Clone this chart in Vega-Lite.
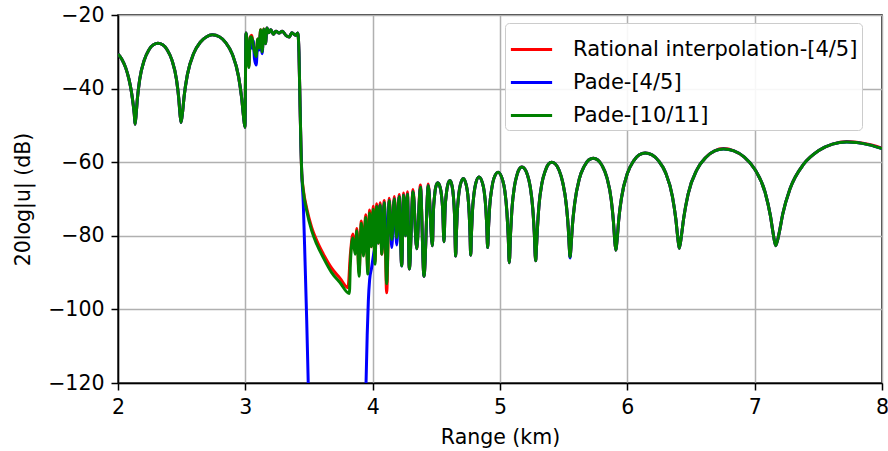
{
"$schema":"https://vega.github.io/schema/vega-lite/v6.json",
"width":764,"height":368,
"autosize":{"type":"none"},
"padding":{"left":118,"top":15,"right":6,"bottom":68},
"background":"white",
"config":{"font":"DejaVu Sans","view":{"stroke":"black","strokeWidth":1.5},
"axis":{"grid":true,"gridColor":"#b0b0b0","gridWidth":1.5,"domainColor":"black","domainWidth":1.5,"tickColor":"black","tickWidth":1.5,"tickSize":7,"labelPadding":7,"labelFontSize":20.5,"labelColor":"black","titleFontSize":20.5,"titleFontWeight":"normal","titleColor":"black","labelFlush":false}},
"data":{"values":[
{"x":2.0,"a":-30.6,"b":-30.6,"c":-30.6},
{"x":2.03,"a":-32.0,"b":-32.0,"c":-32.0},
{"x":2.06,"a":-34.3,"b":-34.3,"c":-34.3},
{"x":2.085,"a":-37.3,"b":-37.3,"c":-37.3},
{"x":2.105,"a":-40.8,"b":-40.8,"c":-40.8},
{"x":2.12,"a":-44.5,"b":-44.5,"c":-44.5},
{"x":2.128,"a":-47.0,"b":-47.0,"c":-47.0},
{"x":2.134,"a":-49.7,"b":-49.7,"c":-49.7},
{"x":2.143,"a":-46.7,"b":-46.7,"c":-46.7},
{"x":2.152,"a":-42.8,"b":-42.8,"c":-42.8},
{"x":2.170,"a":-37.6,"b":-37.6,"c":-37.6},
{"x":2.206,"a":-32.3,"b":-32.3,"c":-32.3},
{"x":2.242,"a":-29.5,"b":-29.5,"c":-29.5},
{"x":2.278,"a":-28.1,"b":-28.1,"c":-28.1},
{"x":2.314,"a":-27.7,"b":-27.7,"c":-27.7},
{"x":2.351,"a":-28.1,"b":-28.1,"c":-28.1},
{"x":2.387,"a":-29.5,"b":-29.5,"c":-29.5},
{"x":2.423,"a":-32.2,"b":-32.2,"c":-32.2},
{"x":2.459,"a":-37.5,"b":-37.5,"c":-37.5},
{"x":2.477,"a":-42.6,"b":-42.6,"c":-42.6},
{"x":2.486,"a":-46.5,"b":-46.5,"c":-46.5},
{"x":2.495,"a":-49.2,"b":-49.2,"c":-49.2},
{"x":2.508,"a":-46.1,"b":-46.1,"c":-46.1},
{"x":2.520,"a":-41.9,"b":-41.9,"c":-41.9},
{"x":2.545,"a":-36.2,"b":-36.2,"c":-36.2},
{"x":2.595,"a":-30.4,"b":-30.4,"c":-30.4},
{"x":2.646,"a":-27.4,"b":-27.4,"c":-27.4},
{"x":2.696,"a":-25.9,"b":-25.9,"c":-25.9},
{"x":2.740,"a":-25.4,"b":-25.4,"c":-25.4},
{"x":2.796,"a":-25.9,"b":-25.9,"c":-25.9},
{"x":2.846,"a":-27.5,"b":-27.5,"c":-27.5},
{"x":2.897,"a":-30.6,"b":-30.6,"c":-30.6},
{"x":2.947,"a":-36.8,"b":-36.8,"c":-36.8},
{"x":2.972,"a":-42.8,"b":-42.8,"c":-42.8},
{"x":2.985,"a":-47.3,"b":-47.3,"c":-47.3},
{"x":2.997,"a":-50.5,"b":-50.5,"c":-50.5},
{"x":3.005,"a":-24.9,"b":-24.9,"c":-24.9},
{"x":3.018,"a":-30.0,"b":-29.0,"c":-30.0},
{"x":3.028,"a":-34.0,"b":-31.0,"c":-34.3},
{"x":3.038,"a":-26.0,"b":-27.0,"c":-26.0},
{"x":3.050,"a":-25.5,"b":-29.0,"c":-26.0},
{"x":3.062,"a":-28.0,"b":-27.0,"c":-28.2},
{"x":3.072,"a":-29.5,"b":-32.0,"c":-30.0},
{"x":3.085,"a":-30.5,"b":-33.6,"c":-31.3},
{"x":3.097,"a":-26.5,"b":-28.0,"c":-26.5},
{"x":3.108,"a":-29.0,"b":-29.5,"c":-29.0},
{"x":3.120,"a":-24.0,"b":-25.0,"c":-24.0},
{"x":3.132,"a":-30.0,"b":-30.5,"c":-30.0},
{"x":3.145,"a":-23.8,"b":-24.0,"c":-23.8},
{"x":3.158,"a":-27.8,"b":-27.8,"c":-27.8},
{"x":3.170,"a":-23.5,"b":-23.5,"c":-23.5},
{"x":3.185,"a":-24.8,"b":-24.8,"c":-24.8},
{"x":3.200,"a":-24.0,"b":-24.0,"c":-24.0},
{"x":3.220,"a":-25.2,"b":-25.2,"c":-25.2},
{"x":3.240,"a":-24.4,"b":-24.4,"c":-24.4},
{"x":3.265,"a":-24.9,"b":-24.9,"c":-24.9},
{"x":3.290,"a":-24.4,"b":-24.4,"c":-24.4},
{"x":3.320,"a":-25.6,"b":-25.6,"c":-25.6},
{"x":3.345,"a":-26.0,"b":-26.0,"c":-26.0},
{"x":3.365,"a":-24.8,"b":-24.8,"c":-24.8},
{"x":3.395,"a":-25.5,"b":-25.5,"c":-25.5},
{"x":3.412,"a":-24.9,"b":-24.9,"c":-24.9},
{"x":3.421,"a":-30.0,"b":-30.0,"c":-30.0},
{"x":3.430,"a":-45.0,"b":-45.0,"c":-45.0},
{"x":3.437,"a":-56.0,"b":-56.0,"c":-56.0},
{"x":3.443,"a":-63.0,"b":-63.0,"c":-63.0},
{"x":3.455,"a":-67.3,"b":-71.0,"c":-67.7},
{"x":3.469,"b":-87.0},
{"x":3.482,"a":-72.5,"b":-103.0,"c":-73.2},
{"x":3.494,"b":-120.0},
{"x":3.506,"b":-137.0},
{"x":3.521,"a":-77.7,"c":-78.6},
{"x":3.561,"a":-81.3,"c":-82.3},
{"x":3.612,"a":-84.9,"c":-85.9},
{"x":3.678,"a":-88.8,"c":-90.0},
{"x":3.743,"a":-91.5,"c":-92.7},
{"x":3.806,"a":-94.1},
{"x":3.817,"c":-95.7},
{"x":3.825,"a":-85.0,"c":-87.5},
{"x":3.845,"a":-79.5,"c":-80.5},
{"x":3.862,"a":-84.0,"c":-85.0},
{"x":3.876,"a":-78.0,"c":-78.6},
{"x":3.893,"a":-90.0,"c":-91.0},
{"x":3.911,"a":-76.0,"c":-76.6},
{"x":3.928,"a":-85.0,"c":-85.5},
{"x":3.940,"b":-137.0},
{"x":3.945,"a":-74.3,"c":-75.0},
{"x":3.948,"b":-120.0},
{"x":3.957,"b":-107.0},
{"x":3.962,"a":-89.5,"c":-90.4},
{"x":3.966,"b":-97.7},
{"x":3.976,"a":-73.0,"b":-92.0,"c":-73.8},
{"x":3.990,"a":-83.0,"c":-83.0},
{"x":3.992,"b":-88.6},
{"x":4.004,"a":-72.0,"c":-72.8},
{"x":4.010,"b":-84.5},
{"x":4.018,"a":-87.0,"c":-87.7},
{"x":4.032,"a":-71.3,"b":-81.4,"c":-72.0},
{"x":4.045,"a":-82.0,"b":-80.0,"c":-82.0},
{"x":4.058,"a":-71.0,"b":-71.6,"c":-71.6},
{"x":4.072,"a":-85.0,"b":-84.0,"c":-85.0},
{"x":4.091,"a":-70.4,"b":-71.0,"c":-71.0},
{"x":4.110,"a":-95.5,"b":-84.0,"c":-93.0},
{"x":4.130,"a":-69.8,"b":-70.5,"c":-70.5},
{"x":4.150,"a":-81.0,"b":-83.2,"c":-81.0},
{"x":4.170,"a":-69.3,"b":-70.0,"c":-70.0},
{"x":4.189,"a":-80.5,"b":-82.5,"c":-80.5},
{"x":4.208,"a":-68.8,"b":-69.4,"c":-69.4},
{"x":4.228,"a":-88.0,"b":-88.2,"c":-88.2},
{"x":4.243,"a":-68.4,"b":-69.0,"c":-69.0},
{"x":4.258,"a":-80.0,"b":-80.0,"c":-80.0},
{"x":4.273,"a":-68.0,"b":-68.7,"c":-68.7},
{"x":4.288,"a":-89.0,"b":-89.0,"c":-89.0},
{"x":4.317,"a":-67.4,"b":-68.0,"c":-68.0},
{"x":4.346,"a":-83.5,"b":-83.5,"c":-83.5},
{"x":4.375,"a":-66.2,"b":-66.8,"c":-66.8},
{"x":4.403,"a":-91.0,"b":-91.0,"c":-91.0},
{"x":4.437,"a":-65.9,"b":-66.4,"c":-66.4},
{"x":4.469,"a":-82.7,"b":-82.7,"c":-82.7},
{"x":4.477,"a":-73.4,"b":-73.4,"c":-73.4},
{"x":4.486,"a":-69.2,"b":-69.2,"c":-69.2},
{"x":4.494,"a":-67.0,"b":-67.0,"c":-67.0},
{"x":4.511,"a":-65.6,"b":-65.6,"c":-65.6},
{"x":4.531,"a":-67.0,"b":-67.0,"c":-67.0},
{"x":4.540,"a":-68.9,"b":-68.9,"c":-68.9},
{"x":4.550,"a":-72.9,"b":-72.9,"c":-72.9},
{"x":4.560,"a":-81.6,"b":-81.6,"c":-81.6},
{"x":4.569,"a":-72.5,"b":-72.5,"c":-72.5},
{"x":4.579,"a":-68.5,"b":-68.5,"c":-68.5},
{"x":4.588,"a":-66.4,"b":-66.4,"c":-66.4},
{"x":4.607,"a":-65.0,"b":-65.0,"c":-65.0},
{"x":4.625,"a":-66.7,"b":-66.7,"c":-66.7},
{"x":4.634,"a":-69.3,"b":-69.3,"c":-69.3},
{"x":4.643,"a":-74.3,"b":-74.3,"c":-74.3},
{"x":4.652,"a":-85.5,"b":-85.5,"c":-85.5},
{"x":4.658,"a":-79.0,"b":-79.0,"c":-79.0},
{"x":4.664,"a":-74.0,"b":-74.0,"c":-74.0},
{"x":4.676,"a":-68.8,"b":-68.8,"c":-68.8},
{"x":4.688,"a":-66.2,"b":-66.2,"c":-66.2},
{"x":4.712,"a":-64.4,"b":-64.4,"c":-64.4},
{"x":4.735,"a":-66.2,"b":-66.2,"c":-66.2},
{"x":4.747,"a":-68.8,"b":-68.8,"c":-68.8},
{"x":4.758,"a":-73.9,"b":-73.9,"c":-73.9},
{"x":4.764,"a":-78.9,"b":-78.9,"c":-78.9},
{"x":4.770,"a":-85.3,"b":-85.3,"c":-85.3},
{"x":4.7765,"a":-78.8,"b":-78.8,"c":-78.8},
{"x":4.783,"a":-73.7,"b":-73.7,"c":-73.7},
{"x":4.796,"a":-68.5,"b":-68.5,"c":-68.5},
{"x":4.809,"a":-65.8,"b":-65.8,"c":-65.8},
{"x":4.835,"a":-64.0,"b":-64.0,"c":-64.0},
{"x":4.862,"a":-65.6,"b":-65.6,"c":-65.6},
{"x":4.876,"a":-68.0,"b":-68.0,"c":-68.0},
{"x":4.889,"a":-72.7,"b":-72.7,"c":-72.7},
{"x":4.896,"a":-77.3,"b":-77.3,"c":-77.3},
{"x":4.903,"a":-83.2,"b":-83.2,"c":-83.2},
{"x":4.911,"a":-76.9,"b":-76.9,"c":-76.9},
{"x":4.919,"a":-72.0,"b":-72.0,"c":-72.0},
{"x":4.936,"a":-67.0,"b":-67.0,"c":-67.0},
{"x":4.952,"a":-64.4,"b":-64.4,"c":-64.4},
{"x":4.985,"a":-62.7,"b":-62.7,"c":-62.7},
{"x":5.020,"a":-64.8,"b":-64.8,"c":-64.8},
{"x":5.038,"a":-67.8,"b":-67.8,"c":-67.8},
{"x":5.055,"a":-73.9,"b":-73.9,"c":-73.9},
{"x":5.064,"a":-79.7,"b":-79.7,"c":-79.7},
{"x":5.073,"a":-87.3,"b":-87.3,"c":-87.3},
{"x":5.083,"a":-79.3,"b":-79.3,"c":-79.3},
{"x":5.093,"a":-73.1,"b":-73.1,"c":-73.1},
{"x":5.113,"a":-66.7,"b":-66.7,"c":-66.7},
{"x":5.133,"a":-63.5,"b":-63.5,"c":-63.5},
{"x":5.152,"a":-61.8,"b":-61.8,"c":-61.8},
{"x":5.172,"a":-61.3,"b":-61.3,"c":-61.3},
{"x":5.194,"a":-61.8,"b":-61.8,"c":-61.8},
{"x":5.215,"a":-63.4,"b":-63.4,"c":-63.4},
{"x":5.237,"a":-66.6,"b":-66.6,"c":-66.6},
{"x":5.258,"a":-72.9,"b":-72.9,"c":-72.9},
{"x":5.269,"a":-79.0,"b":-79.0,"c":-79.0},
{"x":5.280,"a":-86.8,"b":-86.8,"c":-86.8},
{"x":5.286,"a":-83.4,"b":-83.4,"c":-83.4},
{"x":5.293,"a":-78.6,"b":-78.6,"c":-78.6},
{"x":5.305,"a":-72.2,"b":-72.2,"c":-72.2},
{"x":5.330,"a":-65.6,"b":-65.6,"c":-65.6},
{"x":5.356,"a":-62.3,"b":-62.3,"c":-62.3},
{"x":5.381,"a":-60.5,"b":-60.5,"c":-60.5},
{"x":5.406,"a":-60.0,"b":-60.0,"c":-60.0},
{"x":5.435,"a":-60.5,"b":-60.5,"c":-60.5},
{"x":5.464,"a":-62.2,"b":-62.2,"c":-62.2},
{"x":5.492,"a":-65.4,"b":-65.4,"c":-65.4},
{"x":5.521,"a":-71.7,"b":-71.7,"c":-71.7},
{"x":5.536,"a":-77.8,"b":-77.8,"c":-77.8},
{"x":5.543,"a":-82.4,"b":-82.4,"c":-82.4},
{"x":5.550,"a":-85.7,"b":-86.0,"c":-85.7},
{"x":5.559,"a":-82.3,"b":-82.3,"c":-82.3},
{"x":5.568,"a":-77.5,"b":-77.5,"c":-77.5},
{"x":5.587,"a":-71.1,"b":-71.1,"c":-71.1},
{"x":5.623,"a":-64.5,"b":-64.5,"c":-64.5},
{"x":5.660,"a":-61.2,"b":-61.2,"c":-61.2},
{"x":5.696,"a":-59.4,"b":-59.4,"c":-59.4},
{"x":5.733,"a":-58.9,"b":-58.9,"c":-58.9},
{"x":5.768,"a":-59.4,"b":-59.4,"c":-59.4},
{"x":5.803,"a":-61.0,"b":-61.0,"c":-61.0},
{"x":5.839,"a":-64.1,"b":-64.1,"c":-64.1},
{"x":5.874,"a":-70.3,"b":-70.3,"c":-70.3},
{"x":5.891,"a":-76.2,"b":-76.2,"c":-76.2},
{"x":5.900,"a":-80.7,"b":-80.7,"c":-80.7},
{"x":5.909,"a":-83.9,"b":-83.9,"c":-83.9},
{"x":5.921,"a":-80.5,"b":-80.5,"c":-80.5},
{"x":5.932,"a":-75.8,"b":-75.8,"c":-75.8},
{"x":5.955,"a":-69.5,"b":-69.5,"c":-69.5},
{"x":6.001,"a":-63.0,"b":-63.0,"c":-63.0},
{"x":6.048,"a":-59.7,"b":-59.7,"c":-59.7},
{"x":6.094,"a":-58.0,"b":-58.0,"c":-58.0},
{"x":6.140,"a":-57.5,"b":-57.5,"c":-57.5},
{"x":6.194,"a":-58.0,"b":-58.0,"c":-58.0},
{"x":6.247,"a":-59.7,"b":-59.7,"c":-59.7},
{"x":6.301,"a":-62.9,"b":-62.9,"c":-62.9},
{"x":6.354,"a":-69.3,"b":-69.3,"c":-69.3},
{"x":6.381,"a":-75.5,"b":-75.5,"c":-75.5},
{"x":6.395,"a":-80.1,"b":-80.1,"c":-80.1},
{"x":6.408,"a":-83.4,"b":-83.4,"c":-83.4},
{"x":6.425,"a":-79.9,"b":-79.9,"c":-79.9},
{"x":6.443,"a":-75.1,"b":-75.1,"c":-75.1},
{"x":6.477,"a":-68.7,"b":-68.7,"c":-68.7},
{"x":6.547,"a":-62.0,"b":-62.0,"c":-62.0},
{"x":6.616,"a":-58.7,"b":-58.7,"c":-58.7},
{"x":6.686,"a":-56.9,"b":-56.9,"c":-56.9},
{"x":6.755,"a":-56.3,"b":-56.4,"c":-56.4},
{"x":6.837,"a":-56.9,"b":-56.9,"c":-56.9},
{"x":6.919,"a":-58.6,"b":-58.6,"c":-58.6},
{"x":7.001,"a":-61.9,"b":-61.9,"c":-61.9},
{"x":7.083,"a":-68.3,"b":-68.3,"c":-68.3},
{"x":7.124,"a":-74.6,"b":-74.6,"c":-74.6},
{"x":7.145,"a":-79.3,"b":-79.3,"c":-79.3},
{"x":7.165,"a":-82.7,"b":-82.7,"c":-82.7},
{"x":7.193,"a":-79.1,"b":-79.1,"c":-79.1},
{"x":7.221,"a":-74.0,"b":-74.0,"c":-74.0},
{"x":7.277,"a":-67.3,"b":-67.3,"c":-67.3},
{"x":7.388,"a":-60.4,"b":-60.4,"c":-60.4},
{"x":7.500,"a":-56.9,"b":-56.9,"c":-56.9},
{"x":7.611,"a":-55.1,"b":-55.1,"c":-55.1},
{"x":7.723,"a":-54.4,"b":-54.5,"c":-54.5},
{"x":7.800,"a":-54.6,"b":-54.65,"c":-54.65},
{"x":7.900,"a":-55.2,"b":-55.3,"c":-55.3},
{"x":8.000,"a":-56.2,"b":-56.3,"c":-56.3}
]},
"transform":[{"fold":["a","b","c"],"as":["key","val"]},{"filter":"datum.val != null"}],
"encoding":{
"x":{"field":"x","type":"quantitative","scale":{"domain":[2,8],"nice":false,"zero":false},"axis":{"values":[2,3,4,5,6,7,8],"title":"Range (km)","titlePadding":10}},
"y":{"field":"val","type":"quantitative","scale":{"domain":[-120,-20],"nice":false,"zero":false},"axis":{"values":[-120,-100,-80,-60,-40,-20],"title":"20log|u| (dB)","titlePadding":14}},
"color":{"field":"key","type":"nominal","scale":{"domain":["a","b","c"],"range":["#ff0000","#0000ff","#008000"]},
"legend":{"title":null,"orient":"none","legendX":387,"legendY":8,"direction":"vertical","symbolType":"stroke","symbolSize":1700,"symbolStrokeWidth":3,"labelFontSize":21,"labelColor":"black","labelLimit":400,"labelOffset":19,"rowPadding":-15,"padding":4,"strokeColor":"#cccccc","fillColor":"rgba(255,255,255,0.9)","cornerRadius":4,
"labelExpr":"datum.value == 'a' ? 'Rational interpolation-[4/5]' : datum.value == 'b' ? 'Pade-[4/5]' : 'Pade-[10/11]'"}}
},
"layer":[
{"transform":[{"filter":"datum.key == 'a'"}],"mark":{"type":"line","strokeWidth":3,"clip":true,"interpolate":"monotone"}},
{"transform":[{"filter":"datum.key == 'b'"}],"mark":{"type":"line","strokeWidth":3,"clip":true,"interpolate":"monotone"}},
{"transform":[{"filter":"datum.key == 'c'"}],"mark":{"type":"line","strokeWidth":3,"clip":true,"interpolate":"monotone"}}
]
}
